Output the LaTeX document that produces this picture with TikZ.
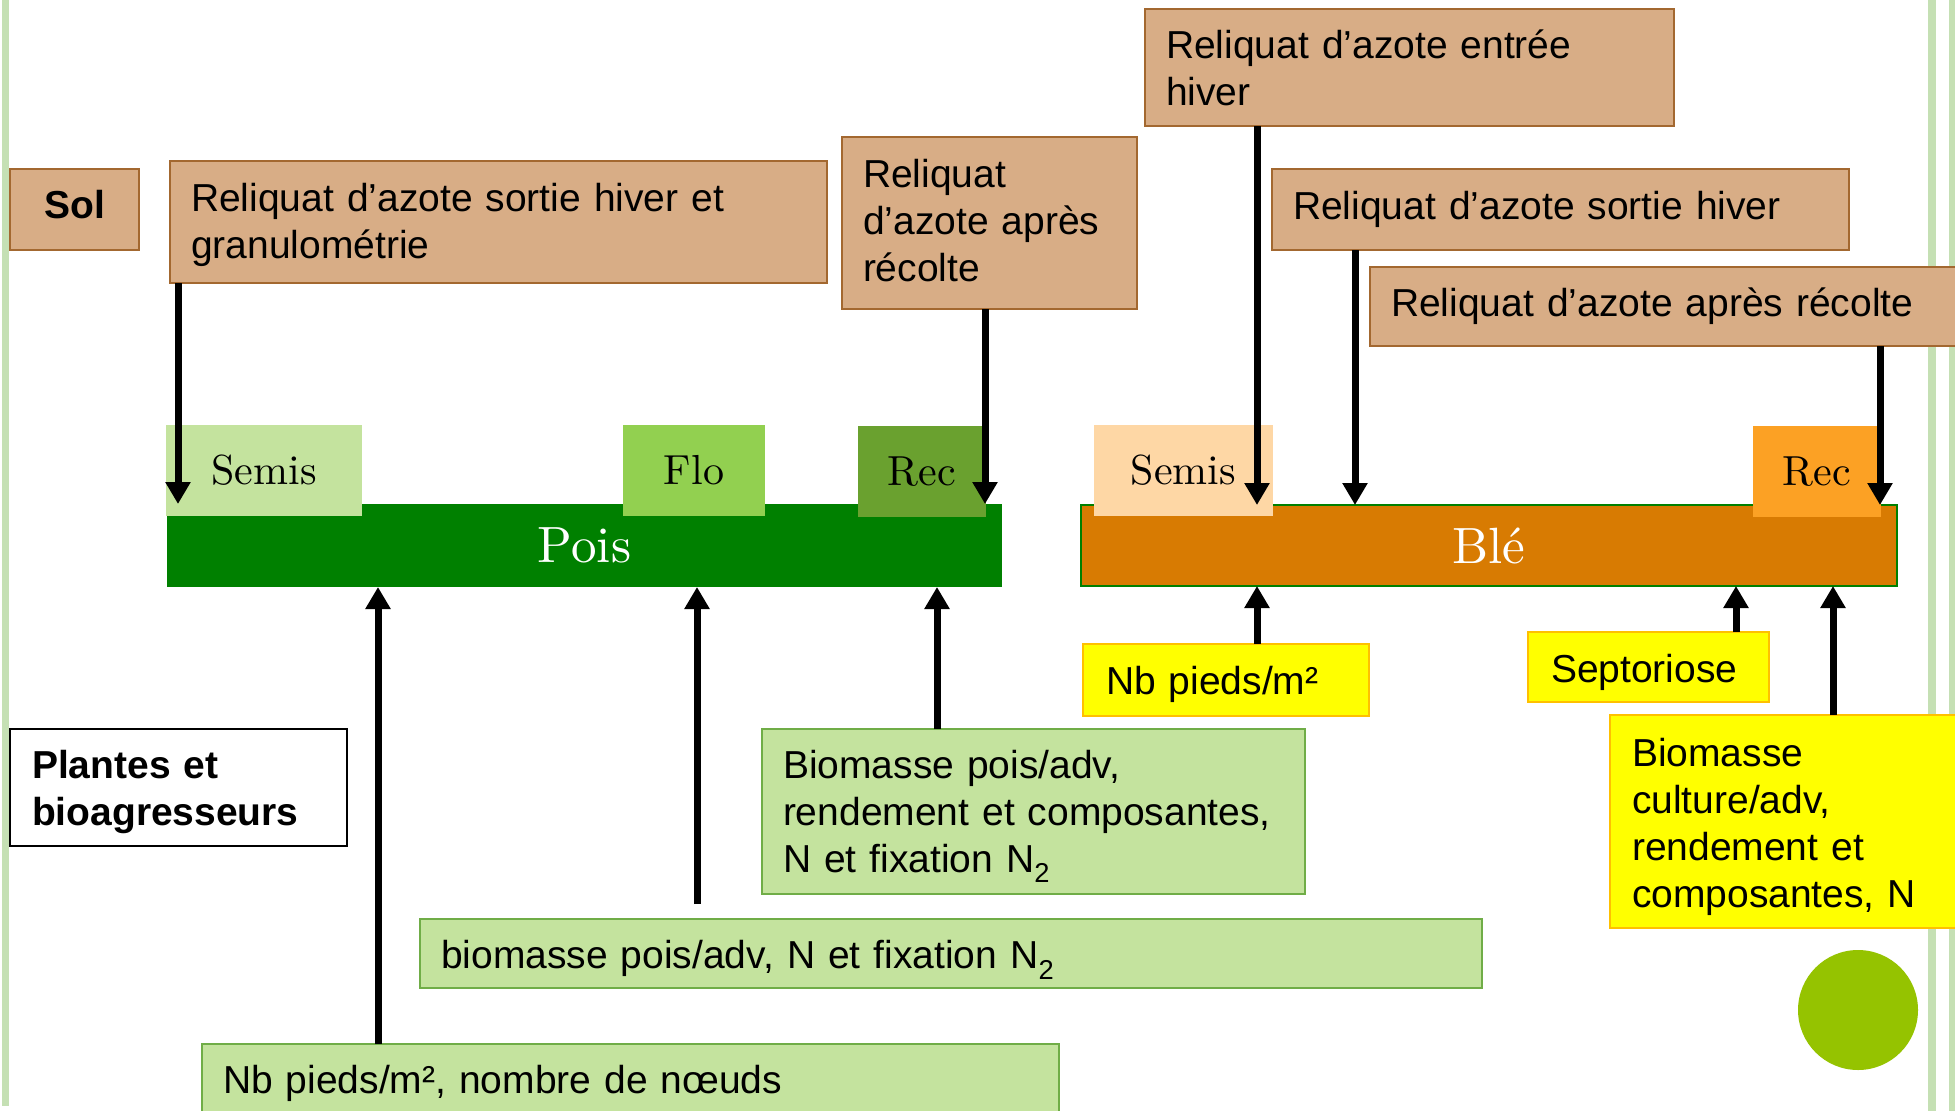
\documentclass[tikz,border=0pt]{standalone}
\usepackage{fontspec}
\newfontfamily\arial{Liberation Sans}
\newfontfamily\lmten{lmroman10-regular.otf}
\usetikzlibrary{arrows.meta}
\definecolor{tanF}{RGB}{216,173,134}
\definecolor{tanD}{RGB}{163,104,48}
\definecolor{lgF}{RGB}{196,227,158}
\definecolor{lgD}{RGB}{112,173,71}
\definecolor{yelF}{RGB}{255,255,0}
\definecolor{yelD}{RGB}{255,192,0}
\definecolor{poisG}{RGB}{0,128,0}
\definecolor{bleO}{RGB}{216,123,2}
\definecolor{semP}{RGB}{196,227,158}
\definecolor{floP}{RGB}{146,208,80}
\definecolor{recP}{RGB}{106,161,47}
\definecolor{semB}{RGB}{254,215,165}
\definecolor{recB}{RGB}{252,161,36}
\definecolor{circG}{RGB}{149,195,0}
\definecolor{sideG}{RGB}{197,224,180}
\newcommand\tup[1]{\rule{0pt}{#1pt}}
\newcommand\tdn[1]{\rule[-#1pt]{0pt}{0pt}}
\begin{document}
\begin{tikzpicture}[x=1pt,y=-1pt,
 every node/.style={outer sep=0pt, anchor=north west, rectangle},
 txt/.style={font=\arial\fontsize{39}{47}\selectfont, align=left, inner xsep=21pt, inner ysep=0pt},
 tanbox/.style={txt, fill=tanF, draw=tanD, line width=2.5pt},
 grbox/.style={txt, fill=lgF, draw=lgD, line width=2.5pt},
 yelbox/.style={txt, fill=yelF, draw=yelD, line width=2.5pt},
 stage/.style={font=\lmten\fontsize{42}{50}\selectfont, inner sep=0pt, minimum height=91pt},
 bar/.style={font=\lmten\fontsize{51}{60}\selectfont, text=white, inner sep=0pt},
 arr/.style={line width=7pt, -{Triangle[length=22pt,width=24pt]}},
]
\useasboundingbox (0,0) rectangle (1955,1111);
\clip (0,0) rectangle (1955,1111);
% side lines
\fill[sideG] (2,0) rectangle (9,1106);
\fill[sideG] (1928,0) rectangle (1936,1111);
\fill[sideG] (1949,0) rectangle (1955,1111);
% bars
\node[bar, fill=poisG, minimum width=835pt, minimum height=83pt] (pois) at (167,504) {Pois};
\node[bar, fill=bleO, draw=poisG, line width=2.5pt, minimum width=816pt, minimum height=81pt] (ble) at (1081,505) {Blé};
% stages
\node[stage, fill=semP, minimum width=196pt] (semisP) at (166,425) {Semis};
\node[stage, fill=floP, minimum width=142pt] (floP) at (623,425) {Flo};
\node[stage, fill=recP, minimum width=128pt] (recP) at (858,426) {Rec};
\node[stage, fill=semB, minimum width=179pt] (semisB) at (1094,425) {Semis};
\node[stage, fill=recB, minimum width=128pt] (recB) at (1753,426) {Rec};
% soil boxes
\node[tanbox, align=center, inner xsep=0pt, minimum width=129pt, minimum height=81pt, font=\arial\bfseries\fontsize{39}{47}\selectfont] (sol) at (10,169) {Sol\tdn{10}};
\node[tanbox, minimum width=657pt, minimum height=122pt, text width=615pt] (relSH) at (170,161) {\tup{33.5}Reliquat d’azote sortie hiver et\\granulométrie};
\node[tanbox, minimum width=295pt, minimum height=172pt, text width=253pt] (relARP) at (842,137) {Reliquat\\d’azote après\\récolte\tdn{6}};
\node[tanbox, minimum width=529pt, minimum height=117pt, text width=487pt] (relEH) at (1145,9) {Reliquat d’azote entrée\\hiver};
\node[tanbox, minimum width=577pt, minimum height=81pt, text width=535pt] (relSHB) at (1272,169) {Reliquat d’azote sortie hiver};
\node[tanbox, minimum width=600pt, minimum height=79pt, text width=558pt] (relARB) at (1370,267) {Reliquat d’azote après récolte};
% plant boxes
\node[txt, fill=white, draw=black, line width=2.5pt, inner xsep=22pt, minimum width=337pt, minimum height=117pt, text width=293pt, font=\arial\bfseries\fontsize{39}{47}\selectfont] (plantes) at (10,729) {\tup{36.5}Plantes et\\bioagresseurs};
\node[grbox, minimum width=543pt, minimum height=165pt, text width=501pt] (biomRend) at (762,729) {\tup{38}Biomasse pois/adv,\\rendement et composantes,\\N et fixation N\textsubscript{2}};
\node[grbox, minimum width=1062pt, minimum height=69pt, text width=1020pt] (biomN2) at (420,919) {\tup{40.5}biomasse pois/adv, N et fixation N\textsubscript{2}};
\node[grbox, minimum width=857pt, minimum height=78pt, text width=815pt] (nbNoeuds) at (202,1044) {Nb pieds/m², nombre de nœuds};
\node[yelbox, inner xsep=23pt, minimum width=286pt, minimum height=72pt, text width=240pt] (nbB) at (1083,644) {\tup{36.5}Nb pieds/m²};
\node[yelbox, inner xsep=23pt, minimum width=241pt, minimum height=70pt, text width=195pt] (sept) at (1528,632) {\tup{38.5}Septoriose};
\node[yelbox, inner xsep=22pt, minimum width=360pt, minimum height=213pt, text width=316pt] (biomCult) at (1610,715) {\tup{38.5}Biomasse\\culture/adv,\\rendement et\\composantes, N};
% circle
\fill[circG] (1858,1010) circle (60);
% arrow x positions
\coordinate (a1) at (178,0);
\coordinate (a2) at (985,0);
\coordinate (a3) at (1257,0);
\coordinate (a4) at (1355,0);
\coordinate (a5) at (1880,0);
\coordinate (b1) at (378,0);
\coordinate (b2) at (697,0);
\coordinate (b3) at (937,0);
\coordinate (b4) at (1736,0);
\coordinate (b5) at (1833,0);
% down arrows
\draw[arr] (relSH.south -| a1) -- (pois.north -| a1);
\draw[arr] (relARP.south -| a2) -- (pois.north -| a2);
\draw[arr] (relEH.south -| a3) -- (ble.north -| a3);
\draw[arr] (relSHB.south -| a4) -- (ble.north -| a4);
\draw[arr] (relARB.south -| a5) -- (ble.north -| a5);
% up arrows
\draw[arr] (nbNoeuds.north -| b1) -- (pois.south -| b1);
\draw[arr, shorten <=15pt] (biomN2.north -| b2) -- (pois.south -| b2);
\draw[arr] (biomRend.north -| b3) -- (pois.south -| b3);
\draw[arr] (nbB.north -| a3) -- (ble.south -| a3);
\draw[arr] (sept.north -| b4) -- (ble.south -| b4);
\draw[arr] (biomCult.north -| b5) -- (ble.south -| b5);
\end{tikzpicture}
\end{document}
